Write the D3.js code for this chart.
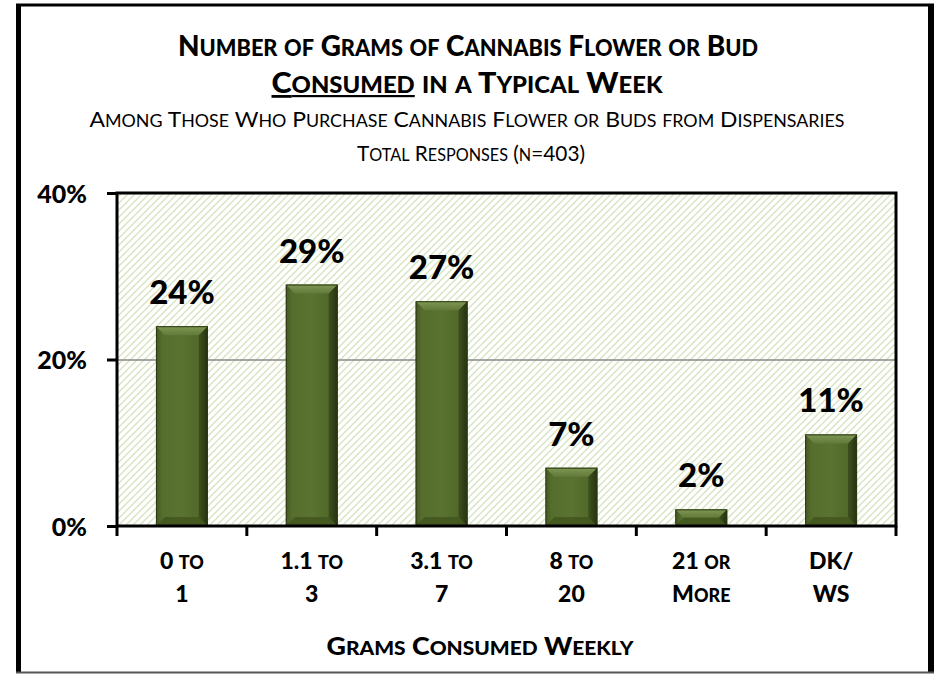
<!DOCTYPE html>
<html>
<head>
<meta charset="utf-8">
<script src="https://cdn.jsdelivr.net/npm/d3@7"></script>
<style>
  body { margin: 0; background: #fff; }
  text { font-family: Lato, "Open Sans", sans-serif; fill: #000; }
</style>
</head>
<body>
<div id="chart"></div>
<script>
// data
const categories = ['0 to|1', '1.1 to|3', '3.1 to|7', '8 to|20', '21 or|More', 'DK/|WS'];
const values = [24, 29, 27, 7, 2, 11];
const yTicks = [0, 20, 40];

const W = 936, H = 674;

const svg = d3.select('#chart').append('svg').attr('width', W).attr('height', H);
const defs = svg.append('defs');

// small caps by hand: lowercase runs get drawn as smaller capitals
function smallCaps(sel, str, size) {
  const runs = str.match(/[a-z]+|[^a-z]+/g);
  runs.forEach(r => {
    const lower = /[a-z]/.test(r[0]);
    sel.append('tspan')
      .style('font-size', (lower ? size * 0.78 : size) + 'px')
      .text(r.toUpperCase());
  });
}

// diagonal hatch for the plot area
const pat = defs.append('pattern')
  .attr('id', 'hatch')
  .attr('patternUnits', 'userSpaceOnUse')
  .attr('width', 7).attr('height', 7);
pat.append('rect').attr('width', 7).attr('height', 7).attr('fill', '#fff');
pat.append('path')
  .attr('d', 'M-1,1 l2,-2 M0,7 l7,-7 M6,8 l2,-2')
  .attr('stroke', '#d6e3be')
  .attr('stroke-width', 1.3);

const barGrad = defs.append('linearGradient').attr('id', 'barGrad')
  .attr('x1', 0).attr('x2', 1).attr('y1', 0).attr('y2', 0);
[[0, '#435722'], [0.12, '#566e2d'], [0.5, '#5b7331'], [0.85, '#506828'], [1, '#263212']]
  .forEach(s => barGrad.append('stop').attr('offset', s[0]).attr('stop-color', s[1]));

const topGrad = defs.append('linearGradient').attr('id', 'topGrad')
  .attr('x1', 0).attr('x2', 0).attr('y1', 0).attr('y2', 1);
[[0, '#7f9853'], [1, '#62793a']]
  .forEach(s => topGrad.append('stop').attr('offset', s[0]).attr('stop-color', s[1]));

// outer frame
svg.append('line').attr('x1', 18.5).attr('x2', 18.5).attr('y1', 4).attr('y2', 673)
  .attr('stroke', '#000').attr('stroke-width', 5);
svg.append('line').attr('x1', 931).attr('x2', 931).attr('y1', 4).attr('y2', 673)
  .attr('stroke', '#000').attr('stroke-width', 6);
svg.append('line').attr('x1', 16).attr('x2', 934).attr('y1', 5).attr('y2', 5)
  .attr('stroke', '#000').attr('stroke-width', 3);
svg.append('line').attr('x1', 16).attr('x2', 934).attr('y1', 672.5).attr('y2', 672.5)
  .attr('stroke', '#555').attr('stroke-width', 2);

const x = d3.scaleBand().domain(categories)
  .range([117, 896])
  .paddingInner(0.6).paddingOuter(0.3);

const y = d3.scaleLinear().domain([0, 40]).range([526, 193]);

// plot area
svg.append('rect')
  .attr('x', x.range()[0]).attr('y', y(40))
  .attr('width', x.range()[1] - x.range()[0])
  .attr('height', y(0) - y(40))
  .attr('fill', 'url(#hatch)');

// gridline at 20%
svg.selectAll('.grid').data(yTicks.filter(d => d > 0 && d < 40)).join('line')
  .attr('class', 'grid')
  .attr('x1', x.range()[0]).attr('x2', x.range()[1])
  .attr('y1', d => y(d) + 0.5).attr('y2', d => y(d) + 0.5)
  .attr('stroke', '#8a8a8a').attr('stroke-width', 1.3);

// bars with a bevel look
const bev = 9;
const bars = svg.selectAll('.bar').data(values).join('g').attr('class', 'bar');
bars.each(function (d, i) {
  const g = d3.select(this);
  const x0 = x(categories[i]), bw = x.bandwidth();
  const y0 = y(d), y1 = y(0);
  const h = y1 - y0;
  const b = Math.min(bev, h / 2);
  g.append('rect').attr('x', x0).attr('y', y0).attr('width', bw).attr('height', h)
    .attr('fill', 'url(#barGrad)');
  g.append('path')
    .attr('d', `M${x0},${y0} L${x0 + bw},${y0} L${x0 + bw - b},${y0 + b} L${x0 + b},${y0 + b} Z`)
    .attr('fill', 'url(#topGrad)');
  g.append('path')
    .attr('d', `M${x0},${y1} L${x0 + bw},${y1} L${x0 + bw - b},${y1 - b} L${x0 + b},${y1 - b} Z`)
    .attr('fill', '#43561f').attr('opacity', 0.9);
  g.append('path')
    .attr('d', `M${x0 + bw},${y0} L${x0 + bw},${y1} L${x0 + bw - b},${y1 - b} L${x0 + bw - b},${y0 + b} Z`)
    .attr('fill', '#26320f').attr('opacity', 0.5);
  g.append('rect').attr('x', x0 + 0.5).attr('y', y0 + 0.5).attr('width', bw - 1).attr('height', h - 1)
    .attr('fill', 'none').attr('stroke', '#2c3a14').attr('stroke-width', 1);
});

// value labels
svg.selectAll('.val').data(values).join('text')
  .attr('class', 'val')
  .attr('x', (d, i) => x(categories[i]) + x.bandwidth() / 2)
  .attr('y', d => y(d) - 22)
  .attr('text-anchor', 'middle')
  .style('font-size', '33px').style('font-weight', 900)
  .text(d => d + '%');

// plot border
svg.append('rect')
  .attr('x', x.range()[0]).attr('y', y(40))
  .attr('width', x.range()[1] - x.range()[0])
  .attr('height', y(0) - y(40))
  .attr('fill', 'none').attr('stroke', '#000').attr('stroke-width', 3);

// y axis
const yAxis = svg.append('g')
  .attr('transform', `translate(${x.range()[0]},0)`)
  .call(d3.axisLeft(y).tickValues(yTicks).tickSize(10).tickPadding(20).tickFormat(d => d + '%'));
yAxis.select('.domain').remove();
yAxis.selectAll('line').attr('stroke', '#000').attr('stroke-width', 3);
yAxis.selectAll('text')
  .style('font-size', '25px').style('font-weight', 900)
  .style('font-family', 'Lato, sans-serif').attr('dy', '0.36em');

// x axis ticks at band edges
const edges = categories.map(c => x(c) - x.step() * x.paddingInner() / 2);
edges.push(x.range()[1]);
edges[0] = x.range()[0];
svg.selectAll('.xtick').data(edges).join('line')
  .attr('class', 'xtick')
  .attr('x1', d => d).attr('x2', d => d)
  .attr('y1', y(0)).attr('y2', y(0) + 10)
  .attr('stroke', '#000').attr('stroke-width', 3);

// x labels
const xl = svg.selectAll('.xl').data(categories).join('g').attr('class', 'xl');
xl.each(function (c) {
  const g = d3.select(this);
  const cx = x(c) + x.bandwidth() / 2;
  c.split('|').forEach((line, k) => {
    const t = g.append('text').attr('x', cx).attr('y', 569 + k * 33)
      .attr('text-anchor', 'middle').style('font-weight', 900);
    smallCaps(t, line, 23);
  });
});

// axis title
const at = svg.append('text')
  .attr('x', 480).attr('y', 655)
  .attr('text-anchor', 'middle')
  .attr('textLength', 307).attr('lengthAdjust', 'spacingAndGlyphs')
  .style('font-weight', 900);
smallCaps(at, 'Grams Consumed Weekly', 24);

// titles
const t1 = svg.append('text')
  .attr('x', 468).attr('y', 56)
  .attr('text-anchor', 'middle')
  .attr('textLength', 580).attr('lengthAdjust', 'spacingAndGlyphs')
  .style('font-weight', 900);
smallCaps(t1, 'Number of Grams of Cannabis Flower or Bud', 28);

const t2 = svg.append('text')
  .attr('x', 467).attr('y', 93)
  .attr('text-anchor', 'middle')
  .attr('textLength', 391).attr('lengthAdjust', 'spacingAndGlyphs')
  .style('font-weight', 900);
const u = t2.append('tspan').style('text-decoration', 'underline');
smallCaps(u, 'Consumed', 28);
smallCaps(t2, ' in a Typical Week', 28);

const s1 = svg.append('text')
  .attr('x', 467).attr('y', 127)
  .attr('text-anchor', 'middle')
  .attr('textLength', 755).attr('lengthAdjust', 'spacingAndGlyphs');
smallCaps(s1, 'Among Those Who Purchase Cannabis Flower or Buds from Dispensaries', 21);

const s2 = svg.append('text')
  .attr('x', 471).attr('y', 161)
  .attr('text-anchor', 'middle')
  .attr('textLength', 228).attr('lengthAdjust', 'spacingAndGlyphs');
smallCaps(s2, 'Total Responses (n=403)', 21);
</script>
</body>
</html>
